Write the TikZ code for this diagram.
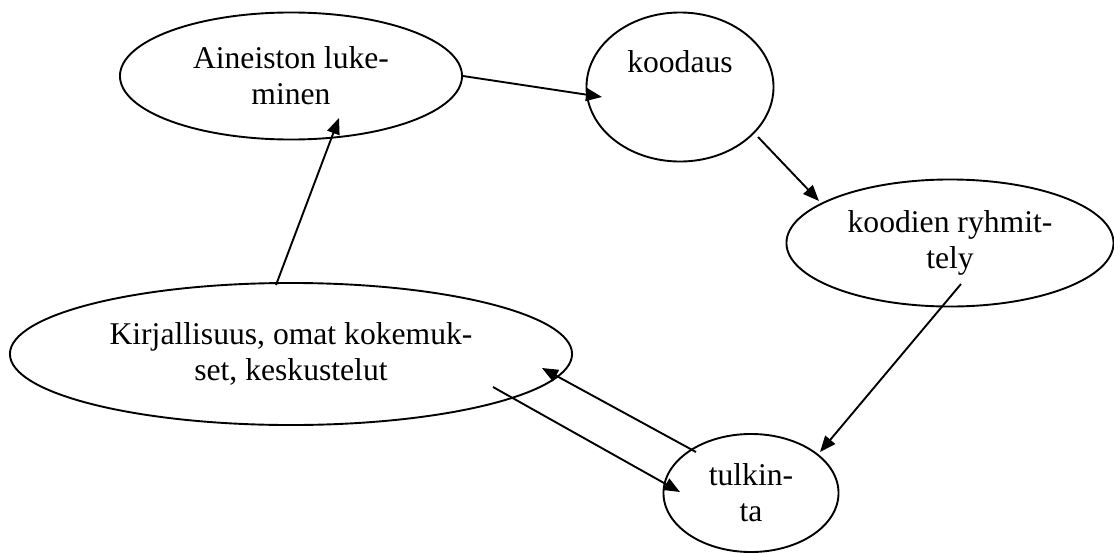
\documentclass[tikz,border=0pt]{standalone}
\usepackage{fontspec}
\setmainfont{Liberation Serif}
\usetikzlibrary{shapes.geometric, arrows.meta}

\begin{document}
\begin{tikzpicture}[x=0.025cm, y=-0.025cm,
        bubble/.style={draw, ellipse, line width=1.35pt, inner sep=0pt, align=center,
            font=\fontsize{22.5}{25.6}\selectfont},
        lbl/.style={inner sep=0pt, font=\fontsize{22.5}{25.6}\selectfont},
        flow/.style={-{Triangle[length=0.4cm, width=0.32cm]}, line width=1.35pt}]
    \useasboundingbox (0,0) rectangle (1114,553);
    % ellipses
    \node[bubble, minimum width=8.55cm, minimum height=3.175cm] (read) at (291,76) {Aineiston luke-\\minen};
    \node[bubble, minimum width=4.675cm, minimum height=3.725cm] (code) at (680,87) {};
    \node[lbl] (codetxt) at (680,62) {koodaus};
    \node[bubble, minimum width=8.175cm, minimum height=3.175cm] (group) at (950,243) {koodien ryhmit-\\tely};
    \node[bubble, minimum width=14.05cm, minimum height=3.55cm] (lit) at (291,354) {Kirjallisuus, omat kokemuk-\\set, keskustelut};
    \node[bubble, minimum width=4.375cm, minimum height=2.95cm] (interp) at (751,493) {tulkin-\\ta};
    % arrows
    \draw[flow] (read.east) -- ([shift={(-78,10)}]code.center);
    \draw[flow] ([shift={(78,50)}]code.center) -- ([shift={(-131,-42)}]group.center);
    \draw[flow] ([shift={(11,41)}]group.center) -- ([shift={(69,-41)}]interp.center);
    \draw[flow] ([shift={(-55,-41)}]interp.center) -- ([shift={(251,14)}]lit.center);
    \draw[flow] ([shift={(202,33)}]lit.center) -- ([shift={(-71,-1)}]interp.center);
    \draw[flow] ([shift={(-15,-69)}]lit.center) -- ([shift={(48,42)}]read.center);
\end{tikzpicture}
\end{document}
